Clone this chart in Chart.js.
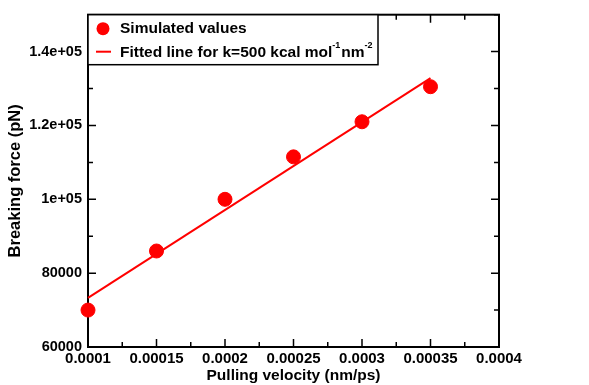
<!DOCTYPE html>
<html>
<head>
<meta charset="utf-8">
<script src="https://cdn.jsdelivr.net/npm/chart.js@4.4.1/dist/chart.umd.min.js"></script>
<style>
  html, body { margin: 0; padding: 0; background: white; }
  #wrap { width: 589px; height: 385px; position: relative; }
</style>
</head>
<body>
<div id="wrap"><canvas id="c"></canvas></div>
<script>
// values
const velocity = [0.0001, 0.00015, 0.0002, 0.00025, 0.0003, 0.00035];
const breakingForce = [70000, 86000, 100000, 111500, 121000, 130500];
const fitVelocity = [0.0001, 0.00035];
const fitForce = [73300, 132800];
const xTicks = [0.0001, 0.00015, 0.0002, 0.00025, 0.0003, 0.00035, 0.0004];
const yTicks = [60000, 80000, 100000, 120000, 140000];

const FONT = "'Liberation Sans', Arial, sans-serif";

function fmtY(v) {
  if (v >= 100000) return v.toExponential().replace(/e\+(\d)$/, "e+0$1");
  return String(v);
}

// frame + inward ticks on all four sides (xmgrace style)
const framePlugin = {
  id: "frame",
  beforeDatasetsDraw(chart) {
    const { ctx, chartArea: a, scales } = chart;
    const x = scales.x, y = scales.y;
    ctx.save();
    ctx.strokeStyle = "#000";
    ctx.lineWidth = 1.5;
    for (let i = 0; i < xTicks.length; i++) {
      const px = x.getPixelForValue(xTicks[i]);
      ctx.beginPath();
      ctx.moveTo(px, a.bottom); ctx.lineTo(px, a.bottom - 8);
      ctx.moveTo(px, a.top); ctx.lineTo(px, a.top + 8);
      ctx.stroke();
      if (i < xTicks.length - 1) {
        const mx = x.getPixelForValue((xTicks[i] + xTicks[i + 1]) / 2);
        ctx.beginPath();
        ctx.moveTo(mx, a.bottom); ctx.lineTo(mx, a.bottom - 5);
        ctx.moveTo(mx, a.top); ctx.lineTo(mx, a.top + 5);
        ctx.stroke();
      }
    }
    for (let i = 0; i < yTicks.length; i++) {
      const py = y.getPixelForValue(yTicks[i]);
      ctx.beginPath();
      ctx.moveTo(a.left, py); ctx.lineTo(a.left + 8, py);
      ctx.moveTo(a.right, py); ctx.lineTo(a.right - 8, py);
      ctx.stroke();
      const my = y.getPixelForValue(yTicks[i] + 10000);
      ctx.beginPath();
      ctx.moveTo(a.left, my); ctx.lineTo(a.left + 5, my);
      ctx.moveTo(a.right, my); ctx.lineTo(a.right - 5, my);
      ctx.stroke();
    }
    ctx.lineWidth = 2;
    ctx.strokeRect(a.left, a.top, a.right - a.left, a.bottom - a.top);
    ctx.restore();
  },
  afterDraw(chart) {
    // legend box
    const { ctx, chartArea: a } = chart;
    ctx.save();
    const bx = a.left, by = a.top, bw = 290, bh = 50;
    ctx.fillStyle = "#fff";
    ctx.fillRect(bx, by, bw, bh);
    ctx.strokeStyle = "#000";
    ctx.lineWidth = 1.5;
    ctx.strokeRect(bx, by, bw, bh);

    ctx.fillStyle = "red";
    ctx.beginPath();
    ctx.arc(bx + 15, by + 14, 6.5, 0, Math.PI * 2);
    ctx.fill();
    ctx.strokeStyle = "red";
    ctx.lineWidth = 2;
    ctx.beginPath();
    ctx.moveTo(bx + 8, by + 37); ctx.lineTo(bx + 23, by + 37);
    ctx.stroke();

    ctx.fillStyle = "#000";
    ctx.textBaseline = "middle";
    ctx.font = "bold 15.5px " + FONT;
    ctx.fillText("Simulated values", bx + 32, by + 14);
    let tx = bx + 32;
    const ty = by + 38;
    const parts = [["Fitted line for k=500 kcal mol", 0], ["-1", 1], ["nm", 0], ["-2", 1]];
    for (const [t, sup] of parts) {
      ctx.font = (sup ? "bold 9px " : "bold 15.5px ") + FONT;
      ctx.fillText(t, tx, sup ? ty - 7 : ty);
      tx += ctx.measureText(t).width + (sup ? 1 : 0);
    }
    ctx.restore();
  }
};

new Chart(document.getElementById("c"), {
  type: "scatter",
  data: {
    datasets: [
      {
        label: "Fitted line",
        data: fitVelocity.map((v, i) => ({ x: v, y: fitForce[i] })),
        showLine: true,
        borderColor: "red",
        borderWidth: 2,
        pointRadius: 0,
        clip: false
      },
      {
        label: "Simulated values",
        data: velocity.map((v, i) => ({ x: v, y: breakingForce[i] })),
        backgroundColor: "red",
        borderColor: "red",
        pointRadius: 7,
        pointHoverRadius: 7,
        clip: false
      }
    ]
  },
  options: {
    responsive: true,
    maintainAspectRatio: false,
    animation: false,
    layout: { padding: { top: 12, right: 90, left: 0, bottom: 0 } },
    plugins: { legend: { display: false }, tooltip: { enabled: false } },
    scales: {
      x: {
        type: "linear",
        min: 0.0001,
        max: 0.0004,
        afterBuildTicks: (s) => { s.ticks = xTicks.map((v) => ({ value: v })); },
        afterFit: (s) => { s.height = 38; },
        grid: { display: false, drawTicks: false },
        border: { display: false },
        ticks: {
          color: "#000",
          padding: 3,
          maxRotation: 0,
          font: { family: FONT, size: 15, weight: "bold" },
          callback: (v) => String(parseFloat(Number(v).toPrecision(6)))
        },
        title: {
          display: true,
          text: "Pulling velocity (nm/ps)",
          color: "#000",
          padding: { top: 0, bottom: 0 },
          font: { family: FONT, size: 15.5, weight: "bold" }
        }
      },
      y: {
        type: "linear",
        min: 60000,
        max: 150000,
        afterBuildTicks: (s) => { s.ticks = yTicks.map((v) => ({ value: v })); },
        afterFit: (s) => { s.width = 88; },
        grid: { display: false, drawTicks: false },
        border: { display: false },
        ticks: {
          color: "#000",
          padding: 6,
          font: { family: FONT, size: 14.5, weight: "bold" },
          callback: (v) => fmtY(v)
        },
        title: {
          display: true,
          text: "Breaking force (pN)",
          color: "#000",
          padding: { top: 6, bottom: 0 },
          font: { family: FONT, size: 16.5, weight: "bold" }
        }
      }
    }
  },
  plugins: [framePlugin]
});
</script>
</body>
</html>
